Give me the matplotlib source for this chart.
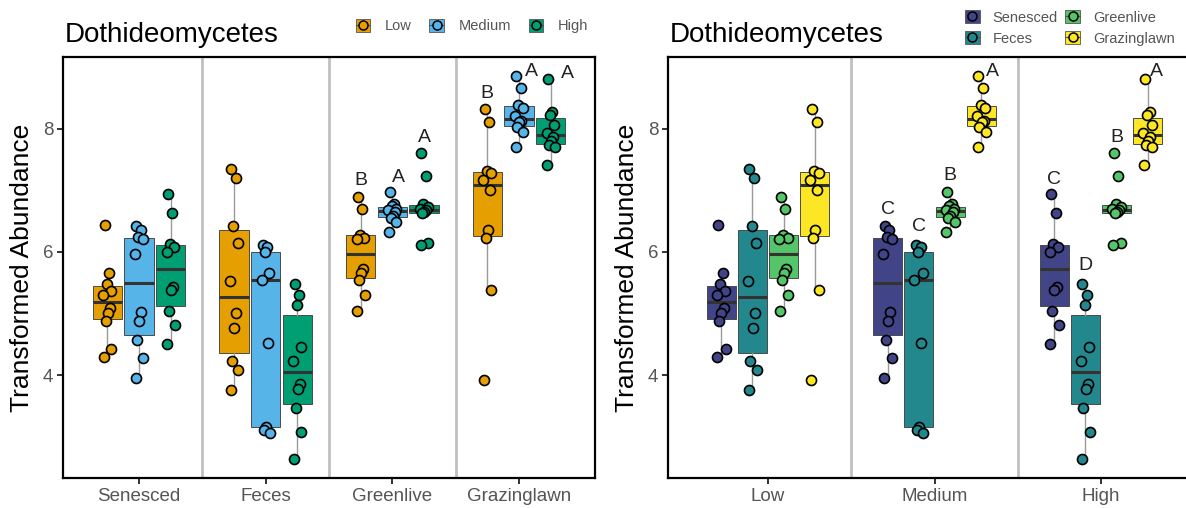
import matplotlib
matplotlib.use('Agg')
import matplotlib.pyplot as plt
import numpy as np
from matplotlib.patches import Patch
from matplotlib.lines import Line2D
from matplotlib.legend_handler import HandlerTuple

plt.rcParams['font.family'] = ['Liberation Sans', 'DejaVu Sans']

# ---------------- data ----------------
habitats = ['Senesced', 'Feces', 'Greenlive', 'Grazinglawn']
levels = ['Low', 'Medium', 'High']

senesced_low = [6.43, 5.66, 5.47, 5.37, 5.30, 5.08, 5.00, 4.87, 4.43, 4.29]
senesced_medium = [6.42, 6.36, 6.24, 6.20, 5.96, 5.03, 4.87, 4.57, 4.27, 3.95]
senesced_high = [6.93, 6.63, 6.12, 6.08, 6.00, 5.43, 5.38, 5.04, 4.82, 4.50]

feces_low = [7.35, 7.19, 6.42, 6.15, 5.52, 5.00, 4.77, 4.23, 4.09, 3.76]
feces_medium = [6.11, 6.08, 6.00, 5.66, 5.54, 4.52, 3.16, 3.11, 3.06]
feces_high = [5.47, 5.30, 5.14, 4.46, 4.23, 3.86, 3.77, 3.46, 3.07, 2.64]

greenlive_low = [6.89, 6.70, 6.28, 6.23, 6.20, 5.72, 5.66, 5.54, 5.30, 5.04]
greenlive_medium = [6.97, 6.78, 6.74, 6.70, 6.67, 6.64, 6.58, 6.55, 6.48, 6.32]
greenlive_high = [7.61, 7.23, 6.78, 6.72, 6.70, 6.67, 6.65, 6.63, 6.14, 6.11]

grazinglawn_low = [8.32, 8.11, 7.31, 7.27, 7.16, 7.00, 6.35, 6.23, 5.38, 3.92]
grazinglawn_medium = [8.85, 8.65, 8.38, 8.33, 8.20, 8.12, 8.10, 8.02, 7.94, 7.70]
grazinglawn_high = [8.81, 8.27, 8.22, 8.05, 7.92, 7.86, 7.80, 7.74, 7.70, 7.41]

values = {
    ('Senesced', 'Low'): senesced_low, ('Senesced', 'Medium'): senesced_medium,
    ('Senesced', 'High'): senesced_high,
    ('Feces', 'Low'): feces_low, ('Feces', 'Medium'): feces_medium,
    ('Feces', 'High'): feces_high,
    ('Greenlive', 'Low'): greenlive_low, ('Greenlive', 'Medium'): greenlive_medium,
    ('Greenlive', 'High'): greenlive_high,
    ('Grazinglawn', 'Low'): grazinglawn_low, ('Grazinglawn', 'Medium'): grazinglawn_medium,
    ('Grazinglawn', 'High'): grazinglawn_high,
}

# significance letters: (outer, inner, letter, dx, dy above group max)
letters_left = [
    ('Greenlive', 'Low', 'B', 0.0, 0.27), ('Greenlive', 'Medium', 'A', 0.05, 0.23),
    ('Greenlive', 'High', 'A', 0.0, 0.24), ('Grazinglawn', 'Low', 'B', 0.0, 0.25),
    ('Grazinglawn', 'Medium', 'A', 0.095, 0.08), ('Grazinglawn', 'High', 'A', 0.13, 0.09),
]
letters_right = [
    ('Medium', 'Senesced', 'C', 0.0, 0.26), ('Medium', 'Feces', 'C', 0.0, 0.30),
    ('Medium', 'Greenlive', 'B', 0.0, 0.26), ('Medium', 'Grazinglawn', 'A', 0.066, 0.07),
    ('High', 'Senesced', 'C', 0.0, 0.24), ('High', 'Feces', 'D', 0.0, 0.30),
    ('High', 'Greenlive', 'B', 0.0, 0.24), ('High', 'Grazinglawn', 'A', 0.05, 0.11),
]

level_colors = ['#E69F00', '#56B4E9', '#009E73']
habitat_colors = [matplotlib.colors.to_hex(c) for c in
                  matplotlib.colormaps['viridis']([0.2, 0.4667, 0.7333, 1.0])]

jitter_pattern = [-0.6, 0.35, -0.15, 0.8, -0.9, 0.5, 0.05, -0.4, 0.9, -0.75, 0.2, 0.65]

W, H = 1186, 508
fig = plt.figure(figsize=(W / 100, H / 100), dpi=100)
YLIM = (2.33, 9.16)


def draw_panel(ax, outer, inner, getter, colors, jit):
    n = len(inner)
    step = 0.75 / n
    width = 0.7 / n
    for i, o in enumerate(outer):
        for j, c in enumerate(inner):
            vals = getter(o, c)
            x = i + (j - (n - 1) / 2) * step
            ax.boxplot([vals], positions=[x], widths=[width], patch_artist=True,
                       showfliers=False, showcaps=False, whis=1.5,
                       boxprops=dict(facecolor=colors[j], edgecolor='#4a4a4a', linewidth=0.7),
                       medianprops=dict(color='#333333', linewidth=2.2),
                       whiskerprops=dict(color='#9a9a9a', linewidth=1.0),
                       zorder=2)
            xs = [x + jit * jitter_pattern[k % len(jitter_pattern)] for k in range(len(vals))]
            ax.scatter(xs, vals, s=52, c=colors[j], edgecolors='black',
                       linewidths=1.2, zorder=3)
    for b in np.arange(0.5, len(outer) - 0.5, 1.0):
        ax.axvline(b, color='#c0c0c0', lw=2.0, zorder=1)
    ax.set_xlim(-0.6, len(outer) - 0.4)
    ax.set_ylim(*YLIM)
    ax.set_xticks(range(len(outer)))
    ax.set_xticklabels(outer)
    ax.set_yticks([4, 6, 8])
    for s in ax.spines.values():
        s.set_linewidth(1.6)
        s.set_color('black')
    ax.tick_params(axis='both', length=4, width=1.4, color='#333333',
                   labelsize=13.5, labelcolor='#555555', pad=3)
    ax.set_ylabel('Transformed Abundance', fontsize=19, labelpad=6)
    ax.text(0.004, 1.052, 'Dothideomycetes', transform=ax.transAxes,
            ha='left', va='center', fontsize=20)


def add_letters(ax, outer, inner, getter, letters):
    n = len(inner)
    step = 0.75 / n
    for o, c, L, dx, dy in letters:
        i = outer.index(o)
        j = inner.index(c)
        x = i + (j - (n - 1) / 2) * step
        ax.text(x + dx, max(getter(o, c)) + dy, L, ha='center', va='center',
                fontsize=14, color='#222222')


axL = fig.add_axes([63 / W, 1 - 478 / H, 532 / W, 421 / H])
getL = lambda o, c: values[(o, c)]
draw_panel(axL, habitats, levels, getL, level_colors, 0.035)
add_letters(axL, habitats, levels, getL, letters_left)

axR = fig.add_axes([668 / W, 1 - 478 / H, 533 / W, 421 / H])
getR = lambda o, c: values[(c, o)]
draw_panel(axR, levels, habitats, getR, habitat_colors, 0.03)
add_letters(axR, levels, habitats, getR, letters_right)


def handles_for(colors):
    hs = []
    for c in colors:
        hs.append((Patch(facecolor=c, edgecolor='#555555', linewidth=0.6),
                   Line2D([0.5, 0.5], [0, 1], color='#555555', lw=0.8),
                   Line2D([], [], marker='o', ls='none', markersize=6.5,
                          markerfacecolor=c, markeredgecolor='black', markeredgewidth=1.1)))
    return hs


legL = fig.legend(handles_for(level_colors), levels, loc='center',
                  bbox_to_anchor=(472 / W, 1 - 26 / H), ncol=3, frameon=False,
                  handler_map={tuple: HandlerTuple(ndivide=1, pad=0)},
                  handlelength=1.0, handleheight=1.0, handletextpad=1.0,
                  columnspacing=1.2, fontsize=10.5, labelcolor='#555555')

legR = fig.legend(handles_for(habitat_colors), habitats, loc='center left',
                  bbox_to_anchor=(952 / W, 1 - 28 / H), ncol=2, frameon=False,
                  handler_map={tuple: HandlerTuple(ndivide=1, pad=0)},
                  handlelength=1.0, handleheight=1.0, handletextpad=0.9,
                  columnspacing=0.5, labelspacing=0.45, fontsize=10.5, labelcolor='#555555')

fig.savefig('out.png', dpi=100)
